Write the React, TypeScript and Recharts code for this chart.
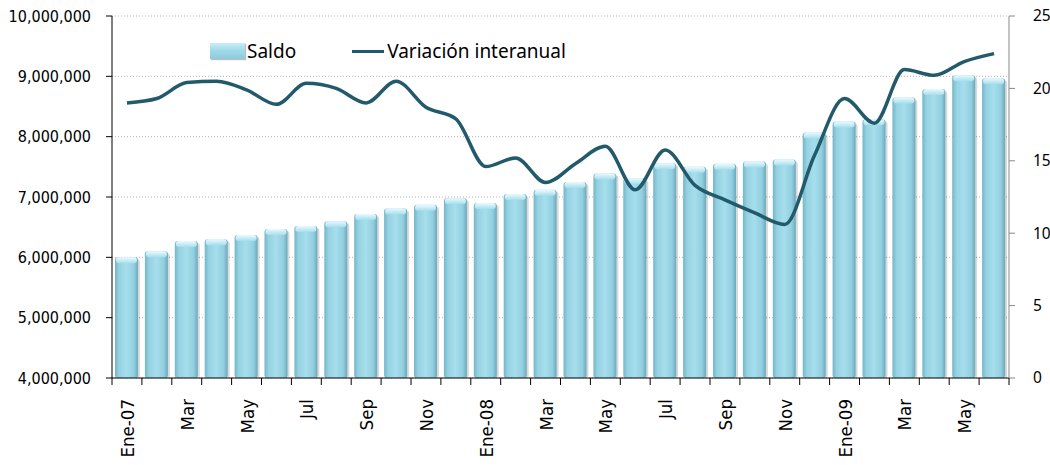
import {
  ComposedChart,
  Bar,
  Line,
  XAxis,
  YAxis,
  CartesianGrid,
  Legend,
} from 'recharts';

const months = [
  'Ene-07', 'Feb', 'Mar', 'Abr', 'May', 'Jun', 'Jul', 'Ago', 'Sep', 'Oct', 'Nov', 'Dic',
  'Ene-08', 'Feb', 'Mar', 'Abr', 'May', 'Jun', 'Jul', 'Ago', 'Sep', 'Oct', 'Nov', 'Dic',
  'Ene-09', 'Feb', 'Mar', 'Abr', 'May', 'Jun',
];

const saldo = [
  6000000, 6100000, 6270000, 6300000, 6370000, 6470000, 6520000, 6600000, 6720000, 6810000,
  6870000, 6980000, 6900000, 7050000, 7120000, 7250000, 7390000, 7310000, 7560000, 7500000,
  7550000, 7590000, 7620000, 8070000, 8250000, 8290000, 8650000, 8790000, 9020000, 8970000,
];

const variacion = [
  19.0, 19.3, 20.4, 20.5, 19.9, 18.9, 20.35, 20.0, 19.0, 20.5,
  18.7, 17.9, 14.6, 15.2, 13.5, 14.8, 16.0, 13.0, 15.75, 13.3,
  12.3, 11.4, 10.6, 15.4, 19.3, 17.6, 21.3, 20.9, 21.85, 22.4,
];

const leftTicks = [4000000, 5000000, 6000000, 7000000, 8000000, 9000000, 10000000];
const rightTicks = [0, 5, 10, 15, 20, 25];

const data = months.map((m, i) => ({ key: `${m}-${i}`, label: m, saldo: saldo[i], variacion: variacion[i] }));

const W = 1050;
const H = 465;
const LEFT_W = 112;
const RIGHT_W = 41;
const BAND = (W - LEFT_W - RIGHT_W) / months.length;

const BarShape = (props: any) => {
  const { x, y, width, height } = props;
  if (!height || height <= 0) return null;
  return (
    <g>
      <rect x={x + 2} y={y + 2} width={width} height={height - 2} rx={3} fill="#000" opacity={0.15} />
      <rect x={x} y={y} width={width} height={height} rx={3} fill="url(#barGrad)" />
      <rect x={x + 1} y={y} width={width - 2} height={6} rx={3} fill="url(#capGrad)" />
    </g>
  );
};

const XTick = (props: any) => {
  const { x, y, index } = props;
  const showLabel = index % 2 === 0;
  const ty = y + 21;
  return (
    <g>
      <line x1={x - BAND / 2} x2={x - BAND / 2} y1={y} y2={y + 7} stroke="#000" />
      {index === months.length - 1 && (
        <line x1={x + BAND / 2} x2={x + BAND / 2} y1={y} y2={y + 7} stroke="#000" />
      )}
      {showLabel && (
        <text
          x={x + 7}
          y={ty}
          transform={`rotate(-90, ${x + 7}, ${ty})`}
          textAnchor="end"
          fontSize={18.5}
          fontFamily="'DejaVu Sans Condensed', 'DejaVu Sans', sans-serif"
          fill="#000"
        >
          {months[index]}
        </text>
      )}
    </g>
  );
};

const RightTick = (props: any) => {
  const { x, y, payload } = props;
  return (
    <text
      x={x + 4}
      y={y}
      dy="0.35em"
      textAnchor="start"
      fontSize={15.5}
      fontFamily="'Noto Sans', sans-serif"
      fill="#000"
    >
      {payload.value}
    </text>
  );
};

const LegendContent = () => (
  <div
    style={{
      display: 'flex',
      alignItems: 'center',
      fontFamily: "'Noto Sans', sans-serif",
      fontSize: 19,
      color: '#000',
    }}
  >
    <div
      style={{
        width: 35,
        height: 16,
        background: 'linear-gradient(180deg, #c9eef7 0%, #a4dcea 40%, #8acbdc 100%)',
        boxShadow: '1px 1px 1px rgba(0,0,0,0.25)',
        marginRight: 2,
      }}
    />
    <span>Saldo</span>
    <div style={{ width: 32, height: 3, background: '#235a6b', marginLeft: 56, marginRight: 3 }} />
    <span>Variación interanual</span>
  </div>
);

export default function App() {
  return (
    <div style={{ position: 'absolute', left: 0, top: 0, width: W, height: H, background: '#fff' }}>
      <ComposedChart
        width={W}
        height={H}
        data={data}
        margin={{ top: 16, right: 0, bottom: 0, left: 0 }}
        barSize={23}
      >
        <defs>
          <linearGradient id="barGrad" x1="0" y1="0" x2="1" y2="0">
            <stop offset="0%" stopColor="#74b6c9" />
            <stop offset="18%" stopColor="#96d2e2" />
            <stop offset="50%" stopColor="#a6deec" />
            <stop offset="82%" stopColor="#92cfe0" />
            <stop offset="100%" stopColor="#6aa9bc" />
          </linearGradient>
          <linearGradient id="capGrad" x1="0" y1="0" x2="0" y2="1">
            <stop offset="0%" stopColor="#eafaff" />
            <stop offset="100%" stopColor="#a6deec" />
          </linearGradient>
        </defs>
        <CartesianGrid vertical={false} stroke="#b5b5b5" strokeDasharray="1 2" yAxisId="left" />
        <XAxis
          dataKey="key"
          interval={0}
          tick={<XTick />}
          tickLine={false}
          tickSize={0}
          tickMargin={0}
          height={87}
          axisLine={{ stroke: '#000' }}
        />
        <YAxis
          yAxisId="left"
          width={LEFT_W}
          domain={[4000000, 10000000]}
          ticks={leftTicks}
          allowDataOverflow
          tickFormatter={(v: number) => v.toLocaleString('en-US')}
          tick={{ fill: '#000', fontSize: 16, fontFamily: "'DejaVu Sans Condensed', 'DejaVu Sans', sans-serif" }}
          tickSize={6}
          tickMargin={15}
          axisLine={{ stroke: '#000' }}
          tickLine={{ stroke: '#000' }}
        />
        <YAxis
          yAxisId="right"
          orientation="right"
          width={RIGHT_W}
          domain={[0, 25]}
          ticks={rightTicks}
          tick={<RightTick />}
          tickSize={6}
          tickMargin={14}
          axisLine={{ stroke: '#888' }}
          tickLine={{ stroke: '#888' }}
        />
        <Legend
          layout="horizontal"
          verticalAlign="middle"
          content={<LegendContent />}
          wrapperStyle={{ top: 38, left: 210, width: 'auto' }}
        />
        <Bar yAxisId="left" dataKey="saldo" shape={<BarShape />} isAnimationActive={false} />
        <Line
          yAxisId="right"
          type="monotone"
          dataKey="variacion"
          stroke="#235a6b"
          strokeWidth={3.5}
          dot={false}
          activeDot={false}
          isAnimationActive={false}
        />
      </ComposedChart>
    </div>
  );
}
